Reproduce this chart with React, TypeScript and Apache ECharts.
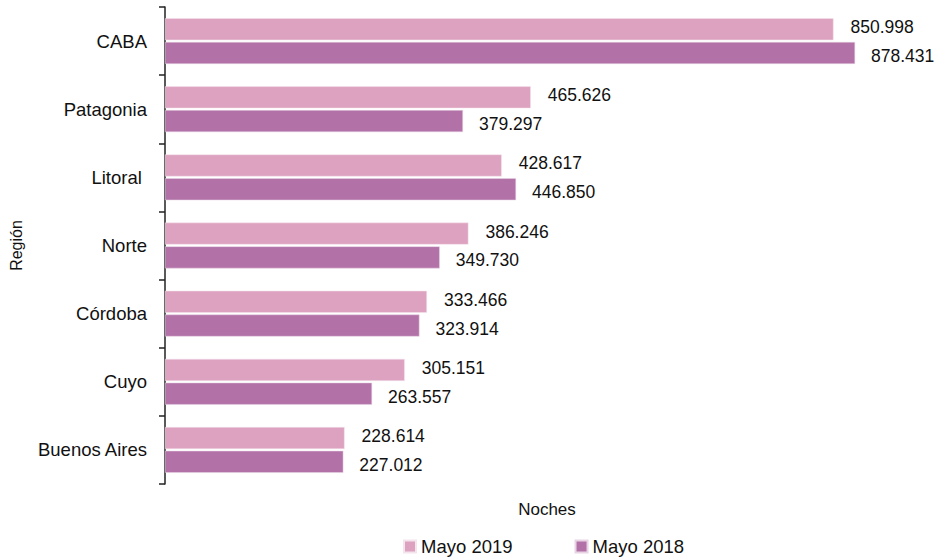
import React, { useEffect, useRef } from "react";
import * as echarts from "echarts";

const categories = ["CABA", "Patagonia", "Litoral ", "Norte", "Córdoba", "Cuyo", "Buenos Aires"];
const mayo2019 = [850998, 465626, 428617, 386246, 333466, 305151, 228614];
const mayo2018 = [878431, 379297, 446850, 349730, 323914, 263557, 227012];
const seriesNames = ["Mayo 2019", "Mayo 2018"];

const FONT = "'Liberation Sans', Arial, Helvetica, sans-serif";
const fmt = (v: number) => String(v).replace(/\B(?=(\d{3})+(?!\d))/g, ".");

export default function App() {
  const ref = useRef<HTMLDivElement>(null);
  useEffect(() => {
    if (!ref.current) return;
    const chart = echarts.init(ref.current, undefined, { renderer: "svg" });
    chart.setOption({
      animation: false,
      backgroundColor: "#ffffff",
      textStyle: { fontFamily: FONT },
      grid: { left: 160, top: 7, width: 712, height: 477, containLabel: false },
      xAxis: {
        type: "value",
        min: 0,
        max: 900000,
        show: false,
      },
      yAxis: {
        type: "category",
        data: categories,
        inverse: true,
        axisLine: { show: true, lineStyle: { color: "#222", width: 1.5 } },
        axisTick: { show: true, length: 6, alignWithLabel: false, lineStyle: { color: "#222", width: 1.5 } },
        axisLabel: { color: "#111", fontSize: 18.5, margin: 18, fontFamily: FONT },
        name: "Región",
        nameLocation: "middle",
        nameRotate: 90,
        nameGap: 141,
        nameTextStyle: { color: "#111", fontSize: 16, fontFamily: FONT },
      },
      legend: {
        data: seriesNames,
        left: 398,
        top: 532,
        itemWidth: 12,
        itemHeight: 12,
        itemGap: 62,
        icon: "rect",
        textStyle: { color: "#111", fontSize: 18.5, fontFamily: FONT },
      },
      graphic: [
        {
          type: "text",
          x: 547,
          y: 509,
          style: {
            text: "Noches",
            fill: "#111",
            fontSize: 17,
            fontFamily: FONT,
            align: "center",
            verticalAlign: "middle",
          },
        },
      ],
      series: [
        {
          name: seriesNames[0],
          type: "bar",
          data: mayo2019,
          barWidth: 22,
          barGap: "8%",
          itemStyle: { color: "#DDA2C0", borderColor: "#f4e4ec", borderWidth: 0.5 },
          label: {
            show: true,
            position: "right",
            distance: 17,
            offset: [0, -2],
            formatter: (p: any) => fmt(p.value),
            color: "#111",
            fontSize: 17.5,
            fontFamily: FONT,
          },
        },
        {
          name: seriesNames[1],
          type: "bar",
          data: mayo2018,
          barWidth: 22,
          barGap: "8%",
          itemStyle: { color: "#B272A8", borderColor: "#e8d4e4", borderWidth: 0.5 },
          label: {
            show: true,
            position: "right",
            distance: 16,
            offset: [0, 3],
            formatter: (p: any) => fmt(p.value),
            color: "#111",
            fontSize: 17.5,
            fontFamily: FONT,
          },
        },
      ],
    });
    return () => chart.dispose();
  }, []);
  return <div ref={ref} style={{ width: 942, height: 558, position: "absolute", left: 0, top: 0 }} />;
}
